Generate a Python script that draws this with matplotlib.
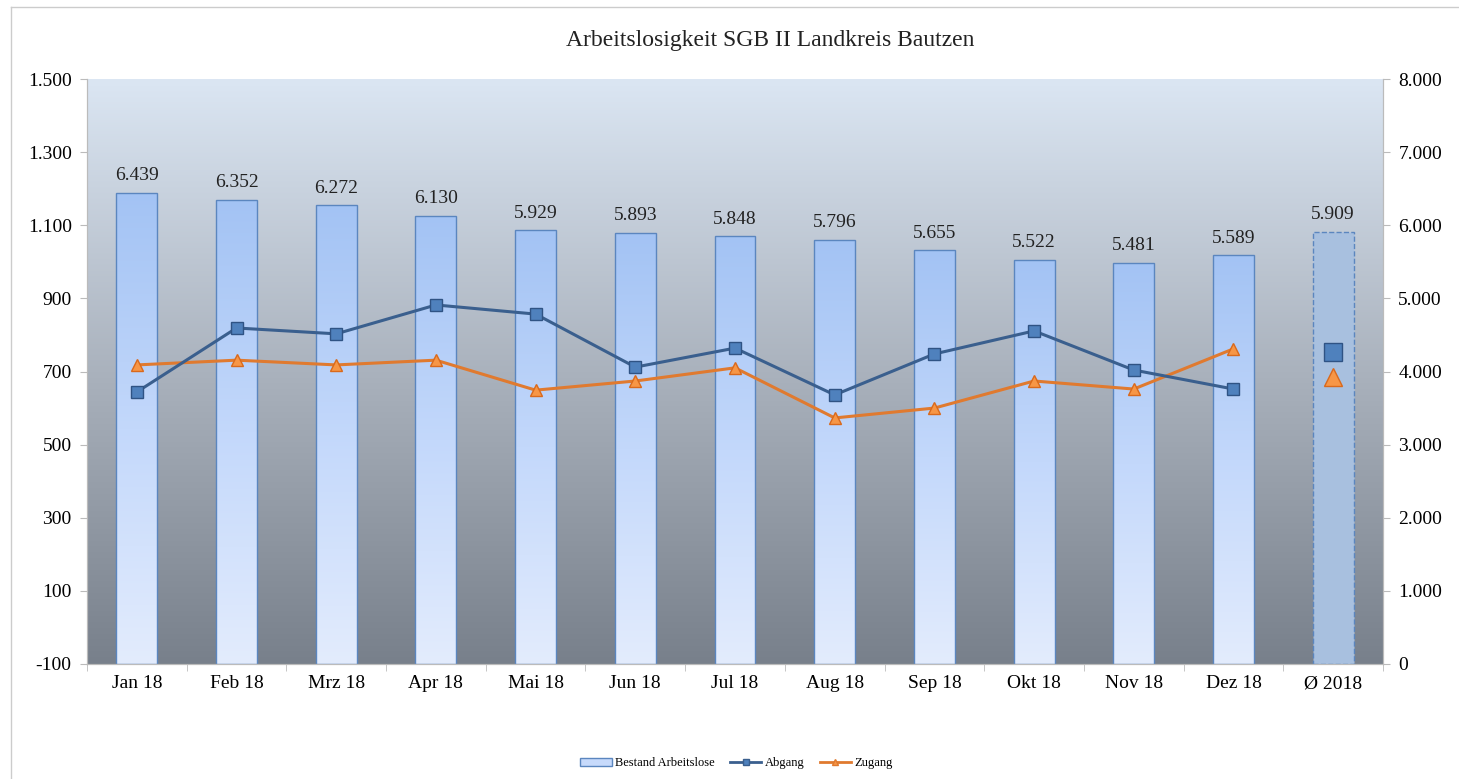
import matplotlib.pyplot as plt
import numpy as np
from matplotlib.colors import LinearSegmentedColormap
from matplotlib.lines import Line2D
from matplotlib.patches import Patch

plt.rcParams['font.family'] = ['Liberation Serif', 'DejaVu Serif']

# ---- data ----
months = ["Jan 18", "Feb 18", "Mrz 18", "Apr 18", "Mai 18", "Jun 18", "Jul 18",
          "Aug 18", "Sep 18", "Okt 18", "Nov 18", "Dez 18", "Ø 2018"]
bestand = [6439, 6352, 6272, 6130, 5929, 5893, 5848, 5796, 5655, 5522, 5481, 5589, 5909]
abgang = [644, 819, 803, 882, 857, 712, 764, 636, 748, 811, 704, 652]
zugang = [718, 731, 718, 731, 649, 674, 710, 573, 600, 674, 652, 762]
abgang_avg = 753
zugang_avg = 685

x = np.arange(len(months))

fig = plt.figure(figsize=(14.59, 7.79), dpi=100)
ax = fig.add_axes([87 / 1459, 115 / 779, 1296 / 1459, 585 / 779])
ax2 = ax.twinx()

# plot area background gradient
bg = LinearSegmentedColormap.from_list("bg", ["#78808b", "#aab2bd", "#dbe6f3"])
ax.patch.set_visible(False)
grad = np.linspace(0, 1, 256).reshape(-1, 1)
ax.imshow(grad, cmap=bg, origin="lower", extent=[0, 1, 0, 1], transform=ax.transAxes,
          aspect="auto", zorder=0)

# bars (primary axis, ticks on right)
bar_cmap = LinearSegmentedColormap.from_list("bar", ["#e3ecfd", "#c3d8fb", "#a3c3f4"])
bars = ax.bar(x[:-1], bestand[:-1], width=0.41, facecolor="none", edgecolor="#5b86bf",
              linewidth=1.0, zorder=2)
for b in bars:
    x0, w, h = b.get_x(), b.get_width(), b.get_height()
    im = ax.imshow(grad, cmap=bar_cmap, origin="lower", extent=[x0, x0 + w, 0, h],
                   aspect="auto", zorder=1.5)
    im.set_clip_path(b)
ax.bar(x[-1], bestand[-1], width=0.41, color="#a8c0df", edgecolor="#5b86bf",
       linewidth=1.0, linestyle="--", zorder=2)

for xi, v in zip(x, bestand):
    ax.text(xi, v + 120, f"{v/1000:.3f}", ha="center", va="bottom",
            fontsize=14, color="#222222", zorder=5)

ax.set_xlim(-0.5, len(months) - 0.5)
ax.set_ylim(0, 8000)
ax.set_yticks(range(0, 8001, 1000))
ax.set_yticklabels([f"{v:,}".replace(",", ".") for v in range(0, 8001, 1000)])
ax.yaxis.tick_right()
ax.set_xticks(x)
ax.set_xticklabels(months)
ax.set_xticks(np.arange(-0.5, len(months), 1), minor=True)
ax.tick_params(axis="x", which="major", length=0, labelsize=14, pad=8)
ax.tick_params(axis="x", which="minor", length=5, color="#bbbbbb")
ax.tick_params(axis="y", length=5, color="#bbbbbb", labelsize=14, pad=6)

# lines (twin axis, ticks on left)
ax2.plot(x[:-1], abgang, color="#3a5f8e", linewidth=2.2, marker="s", markersize=9,
         markerfacecolor="#4f81bd", markeredgecolor="#2f5384", zorder=4)
ax2.plot(x[:-1], zugang, color="#e07a2f", linewidth=2.2, marker="^", markersize=9,
         markerfacecolor="#f79646", markeredgecolor="#d9691c", zorder=3)
ax2.plot([x[-1]], [abgang_avg], linestyle="none", marker="s", markersize=13,
         markerfacecolor="#4f81bd", markeredgecolor="#2f5384")
ax2.plot([x[-1]], [zugang_avg], linestyle="none", marker="^", markersize=13,
         markerfacecolor="#f79646", markeredgecolor="#d9691c")
ax2.set_ylim(-100, 1500)
ax2.set_yticks(range(-100, 1501, 200))
ax2.set_yticklabels([f"{v:,}".replace(",", ".") for v in range(-100, 1501, 200)])
ax2.yaxis.tick_left()
ax2.tick_params(axis="y", length=5, color="#bbbbbb", labelsize=14, pad=6)

for a in (ax, ax2):
    for s in a.spines.values():
        s.set_visible(False)
    for side in ("bottom", "left", "right"):
        a.spines[side].set_visible(True)
        a.spines[side].set_color("#bbbbbb")

fig.text(0.528, 0.948, "Arbeitslosigkeit SGB II Landkreis Bautzen", ha="center",
         va="center", fontsize=17, color="#222222")

handles = [
    Patch(facecolor="#c7dafb", edgecolor="#5b86bf", label="Bestand Arbeitslose"),
    Line2D([], [], color="#3a5f8e", lw=2, marker="s", markersize=5,
           markerfacecolor="#4f81bd", label="Abgang"),
    Line2D([], [], color="#e07a2f", lw=2, marker="^", markersize=5,
           markerfacecolor="#f79646", label="Zugang"),
]
fig.legend(handles=handles, loc="center", bbox_to_anchor=(0.505, 0.02), ncol=3,
           frameon=False, fontsize=9, handlelength=2.5, columnspacing=1.2,
           handletextpad=0.3)

# outer frame lines (left and top)
fig.add_artist(Line2D([11 / 1459, 11 / 1459], [0, 1 - 7 / 779], color="#cccccc",
                      lw=1, transform=fig.transFigure))
fig.add_artist(Line2D([11 / 1459, 1], [1 - 7 / 779, 1 - 7 / 779], color="#cccccc",
                      lw=1, transform=fig.transFigure))

fig.savefig("out.png", dpi=100)
